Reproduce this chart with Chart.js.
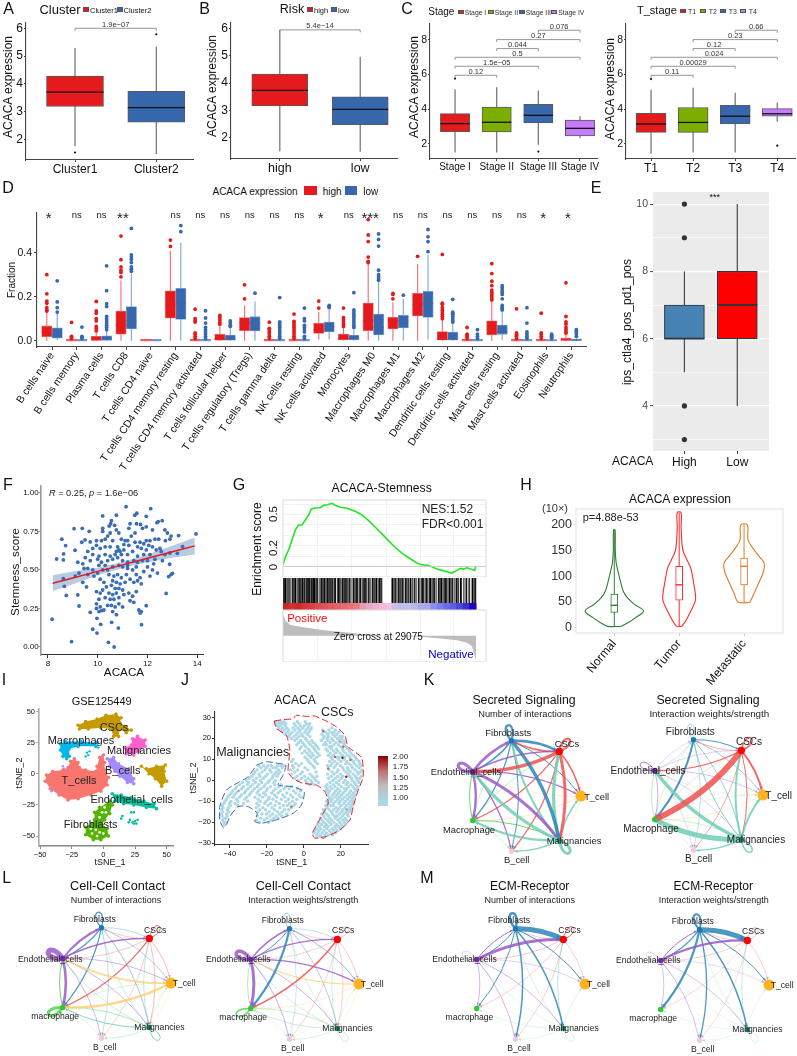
<!DOCTYPE html>
<html>
<head>
<meta charset="utf-8">
<script src="https://cdn.jsdelivr.net/npm/chart.js"></script>
<style>
  html, body { margin: 0; background: #fff; }
  #page { position: relative; width: 797px; height: 1056px; overflow: hidden; font-family: "Liberation Sans", Arial, sans-serif; color: #111; }
  #page canvas { position: absolute; }
  .t { position: absolute; white-space: nowrap; z-index: 2; }
  .k { position: absolute; z-index: 2; box-sizing: border-box; }
</style>
</head>
<body>
<div id="page"></div>
<script>
// ---------- data: A, B ----------
const RED = '#E41A1C', BLUE = '#3768AE';
const clusterNames = ['Cluster1', 'Cluster2'];
const clusterQ1 = [3.18, 2.61], clusterMed = [3.7, 3.14], clusterQ3 = [4.28, 3.73];
const clusterLo = [1.75, 1.47], clusterHi = [5.29, 5.33], clusterOut = [[1.52], [5.78]];
const riskNames = ['high', 'low'];
const riskQ1 = [3.17, 2.48], riskMed = [3.73, 3.04], riskQ3 = [4.33, 3.5];
const riskLo = [1.51, 1.49], riskHi = [5.94, 4.96], riskOut = [[], []];
const exprTicks = [2, 3, 4, 5, 6], exprLabels = ['2', '3', '4', '5', '6'];

// ---------- data: C ----------
const stageNames = ['Stage I', 'Stage II', 'Stage III', 'Stage IV'];
const stageQ1 = [2.71, 2.69, 3.21, 2.46], stageMed = [3.17, 3.25, 3.65, 2.9], stageQ3 = [3.75, 4.13, 4.29, 3.37];
const stageLo = [1.5, 1.5, 1.95, 2.33], stageHi = [5.15, 5.27, 5.08, 3.6], stageOut = [[5.77], [], [1.56], []];
const tNames = ['T1', 'T2', 'T3', 'T4'];
const tQ1 = [2.67, 2.67, 3.15, 3.6], tMed = [3.15, 3.24, 3.6, 3.74], tQ3 = [3.76, 4.1, 4.23, 4.04];
const tLo = [1.43, 1.5, 1.5, 3.28], tHi = [5.13, 5.24, 4.96, 4.37], tOut = [[5.74], [], [], [1.9]];
const stageColors = ['#E41A1C', '#7CAE00', '#3768AE', '#C77CFF'];
const compareY = [5.96, 6.48, 7.0, 7.5, 8.02, 8.56];
const comparePairs = [[1, 2], [1, 3], [1, 4], [2, 3], [2, 4], [3, 4]];
const stageP = ['0.12', '1.5e−05', '0.5', '0.044', '0.27', '0.076'];
const tP = ['0.11', '0.00029', '0.024', '0.12', '0.23', '0.66'];

// ---------- data: D ----------
const immuneNames = ['B cells naive', 'B cells memory', 'Plasma cells', 'T cells CD8', 'T cells CD4 naive', 'T cells CD4 memory resting', 'T cells CD4 memory activated', 'T cells follicular helper', 'T cells regulatory (Tregs)', 'T cells gamma delta', 'NK cells resting', 'NK cells activated', 'Monocytes', 'Macrophages M0', 'Macrophages M1', 'Macrophages M2', 'Dendritic cells resting', 'Dendritic cells activated', 'Mast cells resting', 'Mast cells activated', 'Eosinophils', 'Neutrophils'];
const immuneSig = ['*', 'ns', 'ns', '**', '', 'ns', 'ns', 'ns', 'ns', 'ns', 'ns', '*', 'ns', '***', 'ns', 'ns', 'ns', 'ns', 'ns', 'ns', '*', '*'];
const highQ1 = [.018, 0, 0, .03, 0, .102, 0, 0, .045, 0, 0, .033, .003, .045, .053, .112, .003, 0, .026, 0, 0, 0];
const highMed = [.04, 0, .003, .07, 0, .16, 0, .005, .08, 0, 0, .05, .01, .09, .09, .165, .005, 0, .05, 0, 0, .002];
const highQ3 = [.067, .006, .02, .135, .006, .227, .006, .029, .105, .006, .006, .079, .03, .171, .106, .215, .042, .006, .09, .006, .006, .012];
const highLo = [0, 0, 0, 0, 0, 0, 0, 0, 0, 0, 0, .005, 0, 0, 0, 0, 0, 0, 0, 0, 0, 0];
const highHi = [.13, .015, .045, .275, .006, .408, .01, .07, .16, .01, .01, .13, .06, .35, .175, .348, .1, .01, .18, .015, .015, .03];
const highOut = [[.3, .213, .18, .17, .15, .14, .135], [.083, .02, .015, .01], [.178, .135, .125, .1, .09, .065, .055, .045], [.475, .368, .335, .32, .31, .29], [], [.457, .428], [.143, .1, .09, .085, .035, .03, .02, .01], [.115, .105, .095, .085, .075], [.254, .19], [.084, .056, .05, .04, .03, .02, .01], [.121, .088, .08, .07, .06, .05, .04, .03, .02, .01], [.18, .148], [.148, .105, .095, .085, .075, .065], [.55, .48, .45, .38, .36, .355], [.215, .21, .19], [.383], [.392, .17, .165, .15, .14, .13, .12, .11, .1], [.06, .03, .025, .02, .01], [.35, .305, .27, .25, .23, .22, .21, .2, .19, .185], [.145, .035, .03, .025, .02, .01], [.125, .035, .03, .02, .01], [.263, .11, .085, .075, .06, .05, .04, .035]];
const lowQ1 = [.011, 0, 0, .053, 0, .097, 0, 0, .044, 0, 0, .04, .003, .026, .058, .106, .003, 0, .029, 0, 0, 0];
const lowMed = [.03, 0, .004, .09, 0, .17, 0, .005, .08, 0, 0, .065, .012, .06, .09, .17, .005, 0, .04, 0, 0, .001];
const lowQ3 = [.059, .006, .022, .155, .006, .238, .006, .026, .109, .006, .006, .085, .026, .121, .115, .224, .039, .006, .071, .006, .005, .008];
const lowLo = [.002, 0, 0, 0, 0, 0, 0, 0, 0, 0, 0, .005, 0, 0, 0, .005, 0, 0, .002, 0, 0, 0];
const lowHi = [.13, .015, .05, .305, .006, .445, .01, .06, .178, .01, .01, .14, .05, .27, .19, .39, .08, .01, .14, .015, .012, .02];
const lowOut = [[.272, .176, .15, .13], [.062, .02, .015, .01], [.34, .227, .168, .155, .11, .1, .09, .08, .07, .06, .05], [.51, .39, .38, .37, .355, .335, .325, .315], [], [.523, .495], [.136, .103, .08, .06, .05, .04, .03, .02, .01], [.09, .08, .07, .065], [.216], [.196, .085, .08, .07, .06, .05, .04, .03, .02, .01], [.148, .1, .09, .07, .06, .05, .04, .02, .01], [.16, .155, .15], [.218, .14, .13, .12, .11, .1, .09, .08, .07, .06], [.485, .46, .43, .32, .3, .29, .28, .275], [.207], [.505, .472, .45, .405], [.188, .13, .125, .12, .11, .1, .09, .085], [.05, .03, .02, .01], [.25, .24, .23, .22, .21, .19, .16, .15, .145, .14], [.15, .08, .04, .03, .02, .01], [.03, .025, .02, .015, .01], [.05, .045, .04, .03, .02]];

// ---------- data: E ----------
const ipsNames = ['High', 'Low'];
const ipsQ1 = [6, 6], ipsMed = [6, 7], ipsQ3 = [7, 8], ipsLo = [5, 4], ipsHi = [8, 10], ipsOut = [[10, 9, 4, 3], []];

// ---------- data: F ----------
const stemnessPoints = [[8.17,.18],[8.95,.035],[10.43,.03],[10.66,0],[9.8,.115],[9.97,.09],[10.12,.147],[11.76,.145],[10.83,.123],[10.56,.16],[9.97,.186],[9.7,.225],[10.16,.236],[9.25,.266],[8.74,.335],[9.2,.338],[8.66,.394],[8.62,.444],[11.95,.268],[12.75,.348],[8.35,.571],[8.62,.565],[8.63,.604],[8.71,.658],[8.56,.7],[9.09,.628],[9.05,.768],[9.38,.77],[9.36,.68],[9.49,.695],[9.66,.751],[9.7,.682],[10.2,.851],[10.75,.855],[11.14,.911],[12.13,.898],[11.57,.868],[11.49,.855],[11.95,.848],[12.59,.82],[12.43,.814],[12.38,.807],[13.25,.723],[13.95,.734],[13.41,.652],[13.2,.608],[12.89,.537],[13,.478],[12.85,.457],[12.95,.47],
[10.55,.82],[10.52,.8],[10.46,.785],[10.68,.79],[11.3,.8],[11.56,.8],[11.72,.795],[11.8,.77],[11.95,.78],[12.2,.76],[12.7,.76],[12.8,.74],[12.95,.72],[12.72,.69],[12.9,.7],[12.3,.7],[12.1,.69],[12.45,.7],[10.2,.77],[10.2,.75],[10.4,.72],[10.5,.74],[10.75,.76],[10.85,.74],[11.25,.77],[11.5,.74],[11.35,.72],[10.15,.69],[10.3,.7],[9.95,.69],[9.95,.66],[10.6,.69],[10.95,.7],[11.1,.69],[11.2,.69],[11.5,.68],[11.7,.68],[11.85,.67],[11.95,.69],[12.05,.66],[11.6,.65],[11.75,.64],[11.95,.63],[12.2,.65],[12.5,.64],[12.55,.62],[12.9,.61],[12.7,.6],[10.8,.65],[10.85,.63],[10.9,.62],[10.75,.62],[10.95,.6],[10.7,.6],[11.05,.63],[10.5,.65],[10.3,.65],[10.1,.64],[9.8,.64],[9.6,.62],[9.8,.6],[9.5,.58],[10.05,.59],[10.3,.6],[10.5,.59],[11.2,.6],[11.4,.62],[11.6,.59],[11.85,.6],[12.1,.6],[12.3,.57],[12.6,.56],[9.2,.55],[9.4,.54],[9.45,.51],[9.25,.48],[9.1,.46],[9.6,.51],[9.8,.5],[10.0,.57],[10.15,.55],[10.4,.56],[10.6,.57],[10.8,.58],[11.0,.56],[11.2,.55],[11.45,.56],[11.6,.55],[11.8,.56],[12.0,.56],[12.25,.54],[12.0,.52],[12.2,.5],[12.4,.48],[12.1,.46],[11.85,.49],[11.7,.45],[11.55,.47],[11.4,.5],[11.2,.51],[11.0,.52],[10.85,.53],[10.6,.52],[10.4,.5],[10.2,.5],[10.0,.48],[9.85,.46],[9.6,.47],[9.4,.42],[9.55,.39],[10.1,.44],[10.25,.42],[10.45,.47],[10.65,.46],[10.8,.47],[10.95,.45],[11.15,.47],[11.3,.44],[11.45,.42],[11.6,.43],[11.75,.41],[10.6,.43],[10.75,.42],[10.9,.41],[11.1,.42],[10.35,.39],[10.55,.4],[10.7,.38],[10.85,.38],[11.0,.37],[10.2,.37],[10.1,.35],[9.95,.36],[10.45,.35],[10.6,.34],[10.75,.35],[11.05,.34],[11.25,.35],[11.4,.33],[11.55,.36],[10.3,.32],[10.5,.31],[10.65,.31],[10.85,.32],[11.3,.3],[11.45,.29],[10.05,.31],[9.95,.28],[10.1,.26],[10.25,.24],[10.4,.27],[10.55,.27],[10.7,.26],[10.85,.28],[11.0,.26],[10.6,.23],[10.75,.21],[11.65,.24],[11.75,.23],[11.7,.22],[10.05,.23],[9.95,.25],[11.2,.53],[10.3,.53],[10.05,.53],[11.55,.52],[9.7,.56],[12.35,.63],[11.05,.665],[11.25,.66]];
const fitX = [8.19, 9, 10, 11, 12, 13, 13.9];
const fitY = [.414, .448, .491, .533, .576, .618, .656];
const fitUpper = [.466, .49, .515, .552, .6, .657, .71];
const fitLower = [.364, .408, .465, .512, .55, .58, .6];

// ---------- data: G ----------
const esRank = [0,.73,1.76,2.8,3.83,4.87,5.9,6.94,7.98,8.81,10.05,11.6,12.64,13.88,15.23,16.27,17.82,19.89,22.48,24.55,26.63,28.7,30.77,32.84,34.91,36.99,39.06,41.13,42.68,44.76,46.31,47.86,49.42,50.97,52.53,54.08,55.12,56.15,57.19,58.74,59.57,59.98];
const esValue = [.016,.089,.16,.256,.351,.399,.399,.447,.495,.553,.562,.565,.588,.594,.607,.588,.569,.559,.53,.495,.441,.377,.313,.246,.182,.128,.083,.042,.019,.01,-.003,-.026,-.038,-.051,-.064,-.038,-.019,-.026,-.013,-.029,-.038,.003];
const hitRanks = [0,.4,.8,1.3,1.9,2.3,3,3.3,3.8,4.4,5,5.4,6,6.5,6.8,7.2,7.5,7.9,8.2,8.6,9,9.4,9.7,10.2,10.6,11.3,11.9,12.4,12.9,13.3,13.8,14.3,14.8,15,15.4,15.9,16.2,17,17.4,17.9,18.5,19,19.6,20,20.6,21.1,21.9,22.4,23,23.7,24.1,24.9,25.5,26,26.7,27.2,27.9,28.4,29,29.6,30.1,30.6,34,34.5,35,35.4,36,36.5,37.1,37.5,38.2,38.9,39.6,40.2,40.9,41.4,42.2,43,43.5,44.2,44.7,45.5,45.9,46.6,47,47.6,48.4,48.8,49.3,49.9,50.4,50.9,51.7,52.2,52.7,53.4,54,54.5,55.3,56.2,57,57.9,58.9,59.4,59.8];
const hitShades = ['#111', '#333', '#000', '#555', '#222', '#777', '#111', '#444', '#000', '#666'];
const stripRanks = [1,3,5,7,9,11,13,15,17,19,21,23,25,27,29,31,33,35,37,39,41,43,45,47,49,51,53,55,57,59];
const stripColors = ['#C62828','#D43030','#CC2A2E','#D9363C','#D84048','#DE4A52','#E0505A','#E35862','#E66068','#E86870','#EA7078','#EC7880','#E89AB0','#E8A8C4','#EEB0D0','#F4B8DC','#F8C0E0','#C8C0E8','#BEBCE8','#C0C0EC','#B8B8E8','#AAAAE8','#A8A8EC','#8C8CF0','#7C7CEE','#6C6CEA','#5C5CE4','#4A48D8','#3A30D0','#2000C0'];
const metricRank = [0,.73,2.28,5.39,12.64,17.82,23,31.3,38.55,43.73,48.9,54.08,57.19,58.74,59.98];
const metricValue = [.87,.58,.42,.35,.22,.16,.09,0,-.01,-.04,-.1,-.17,-.27,-.4,-.95];

// ---------- data: H ----------
const tissueNames = ['Normal', 'Tumor', 'Metastatic'];
const tissueColors = ['#2E7D32', '#FF2A2A', '#E07B28'];
const tissueQ1 = [29, 53, 83], tissueMed = [43, 83, 119], tissueQ3 = [65, 119, 135], tissueLo = [1, 2, 49], tissueHi = [190, 224, 200];
const normalV = [2, 9, 19, 32, 45, 58, 70, 87, 108, 125, 150, 190];
const normalW = [.1, .21, .33, .45, .31, .2, .14, .1, .06, .03, .015, .012];
const tumorV = [2, 15, 32, 52, 65, 89, 115, 129, 149, 169, 196, 224];
const tumorW = [.04, .11, .18, .25, .25, .22, .18, .13, .06, .04, .03, .03];
const metaV = [49, 65, 85, 109, 125, 139, 159, 172, 200];
const metaW = [.09, .15, .22, .3, .31, .23, .11, .06, .05];

// ---------- data: I ----------
const tsneNames = ['CSCs', 'Macrophages', 'Malignancies', 'B_cells', 'T_cells', 'Endothelial_cells', 'Fibroblasts'];
const cscOutline = [[-20,39],[-14,42],[-5,44],[2,47],[10,48],[14,45],[13,41],[18,38],[22,35],[18,33],[13,36],[12,30],[8,30],[6,36],[-2,37],[-12,36],[-19,36]];
const cscExtra = [[30,6],[34,4],[42,6],[49,7],[48,2],[50,-6],[46,-10],[41,-4],[36,0]];
const macOutline = [[-34,24],[-30,26],[-18,26],[-5,25],[-6,22],[-20,22],[-27,20],[-27,14],[-29,12],[-32,14],[-34,19]];
const macSpeck = [[-13,17],[-12,15],[-11,18],[-14,14],[-9,23],[-4,21]];
const malOutline = [[23,28],[27,30],[33,27],[33,22],[28,18],[24,15],[18,16],[17,21],[22,23]];
const bOutline = [[3,12],[8,13],[12,8],[20,4],[24,-4],[24,-8],[19,-7],[13,-2],[9,2],[5,6]];
const tOutline = [[-46,-6],[-45,-1],[-40,2],[-32,3],[-28,5],[-26,10],[-23,12],[-20,9],[-19,5],[-14,3],[-6,2],[-5,6],[-3,13],[0,15],[1,9],[1,3],[4,-3],[3,-9],[-2,-14],[-10,-17],[-20,-20],[-28,-21],[-35,-17],[-42,-12]];
const endoOutline = [[7,-16],[14,-17],[22,-19],[32,-22],[40,-24],[42,-28],[34,-27],[24,-25],[16,-24],[9,-22]];
const endoSpeck = [[15,-34],[14,-36],[24,-31],[22,-31],[21,-37],[23,-39],[25,-38],[27,-37],[20,-39],[24,-40],[26,-40]];
const fibOutline = [[5,-22],[7,-25],[5,-32],[1,-37],[-1,-41],[3,-44],[4,-50],[-2,-53],[-8,-53],[-14,-49],[-14,-43],[-9,-40],[-7,-37],[-7,-31],[-3,-27]];
const fibHoles = [[1,-27],[-1,-31],[2,-31],[-3,-35],[-6,-45],[-3,-47],[-9,-48],[0,-48],[-5,-50],[-10,-44]];
const purpleSpeck = [[-42,-12],[-41,-14],[-40,-13],[-32,6],[-31,4],[-1,14]];

// ---------- data: J (each row is y, then the x values on that row) ----------
const jCscRows = [[28,-15.2,-13.6,-12.1,-10.4,-3.5,.8],[27,-15,-13.2,-11.6,-9.7,-5.2,-2.6,1.4,3.2],[26,-14.3,-12.8,-10.1,-4.4,-1.7,.3,2.6],[25,-13.7,-11.5,-9.2,-5.8,-3.1,-.6,2.2,4.1,15.3],[24,-12.4,-10.2,-8.1,-4.7,-1.9,1.2,3.5,10.2,13.6,17.1],[23,-11.3,-8.8,-6.2,-2.8,.6,2.9,11.7,14.4,16.2,18.9],[22,-9.9,-7.4,-4.1,-1.2,1.9,9.8,12.9,15.7,17.9],[21,-8.2,-5.3,-2.6,-.4,3.3,11.1,13.4,16.8,19.7,20.9],[20,-6.7,-3.7,.9,10.4,12.6,14.9,18.1,20.2],[19,-4.9,-1.8,1.6,4.2,9.5,13.1,15.8,19.3,21.6],[18,-2.9,-.7,2.7,5.3,11.6,14.2,17.4,20.6,22.4],[17,-3.8,.2,3.6,6.4,10.7,12.2,16.3,18.7,21.9],[16,-1.4,1.1,4.8,7.2,13.7,15.1,19.9,22.8],[15,-2.2,2.4,5.7,8.1,11.9,14.8,17.7,20.9,23.6],[14,.5,3.2,6.3,12.8,16.1,18.4,21.3,24.7],[13,-.9,1.7,4.3,7.5,14.3,17.2,19.6,22.5,25.4],[12,2.8,5.1,8.4,13.2,15.9,20.7,23.8,26.6],[11,.7,3.9,6.9,14.7,17.8,19.2,22.1,24.9,27.9],[10,-5.8,1.9,5.6,15.4,18.9,21.8,25.6,28.7],[9,-6.6,2.6,6.2,13.9,16.7,20.1,23.3,26.8,29.9],[8,-4.3,-1.2,3.7,7.4,15.2,18.2,22.7,24.4,27.4,30.2],[7,-6.1,-2.7,4.9,12.8,14.4,17.1,19.8,25.7,28.6,30.9],[6,-5.4,.6,5.8,16.3,20.9,23.6,26.3,29.8],[5,-7.2,-3.3,2.1,13.6,18.6,21.7,24.2,27.7,31.4],[4,-4.8,-.8,6.7,15.3,17.9,22.8,25.1,28.9,30.6],[3,-6.4,-1.9,3.4,12.9,16.4,19.9,23.9,26.7,29.4],[2,-3.7,.4,4.6,7.1,14.8,18.4,21.1,24.9,27.8,31.2],[1,-5.1,-1.3,2.3,5.7,13.4,16.9,20.3,25.8,28.4,30.3],[0,-3.1,.9,3.8,6.6,15.7,19.1,22.4,26.2,29.1],[-1,1.6,4.4,7.9,14.2,17.6,21.4,23.7,27.3,29.9],[-2,3.1,5.6,12.6,15.9,18.9,22.9,25.4,28.2],[-3,11.8,14.3,16.8,20.2,24.1,26.6,29.2],[-4,12.7,15.2,18.3,21.8,23.2,27.4,28.7],[-5,12.2,13.9,17.1,19.6,22.6,25.3,28.1],[-6,13.4,16.4,18.8,21.3,24.6,26.9],[-7,12.9,15.6,17.9,20.4,23.4,25.9,27.8],[-8,14.1,16.9,19.2,22.1,24.8,27.1],[-9,13.6,15.3,18.4,20.8,23.7,26.2],[-10,12.3,14.7,17.3,19.7,22.4,25.1,26.9],[-11,13.2,16.1,18.9,21.6,24.3,26.4],[-12,11.9,14.4,15.8,20.2,23.1,25.6],[-13,12.8,17.4,19.3,22.2,24.7,26.1],[-14,10.6,13.7,16.2,18.6,21.1,23.9,25.2],[-15,11.2,14.9,17.7,20.4,22.8,24.6],[-16,9.7,12.4,15.6,19.2,21.7,23.4],[-17,10.8,13.3,16.6,18.1,20.9,24.1],[-18,8.9,11.6,14.2,17.2,19.8,22.3],[-19,9.9,12.9,15.1,18.6,21.2,23.2],[-20,8.2,10.9,13.8,16.2,19.4,21.9],[-21,7.3,9.6,12.1,14.7,17.7,20.3,22.6],[-22,8.4,11.2,13.1,16.8,18.9,21.1],[-23,6.9,9.1,12.4,15.3,17.4,19.8],[-24,6.1,8.2,10.7,13.9,16.2,18.2],[-25,5.4,7.6,9.9,12.2,14.8,17.1],[-26,6.8,8.9,11.4,13.5,15.6],[-27,7.9,9.6,11.3]];
const jMalRows = [[7,-24.4,-21.7,-19.3,-17.6,-14.2,-12.4,-10.8],[6,-23.1,-20.4,-16.8,-15.1,-11.7],[5,-25.2,-21.1,-18.4,-13.6],[4,-26.4,-22.6,-17.7,-14.9,-12.9],[3,-27.3,-24.2,-19.6,-15.8,-13.8],[2,-28.1,-23.8,-20.7,-16.6,-14.4],[1,-29.4,-25.6,-21.9,-17.2],[0,-31.1,-27.2,-23.4,-18.6,-15.3],[-1,-33.2,-29.8,-26.1,-22.7,-19.4,-16.2],[-2,-34.6,-30.4,-27.6,-24.3,-20.8,-15.7,-12.2],[-3,-36.3,-32.7,-28.9,-25.1,-21.6,-18.1,-13.4,-9.8,-6.6],[-4,-37.1,-33.6,-30.2,-26.7,-23.2,-19.7,-15.1,-10.7,-7.9,-3.4],[-5,-38.4,-35.2,-31.4,-27.8,-24.6,-20.3,-16.4,-12.6,-5.7,-1.8],[-6,-39.2,-36.6,-32.1,-28.7,-25.3,-21.7,-17.3,-13.9,-9.2,-4.3],[-7,-40.3,-37.4,-33.7,-29.6,-23.9,-20.6,-15.8,-11.4,-7.2,-2.6],[-8,-41.1,-38.2,-34.8,-30.9,-26.4,-22.4,-18.7,-14.6,-10.3,-5.9,-1.4],[-9,-41.9,-36.3,-31.8,-24.7,-19.1,-16.7,-12.2,-8.3,-3.8],[-10,-42.6,-39.4,-35.6,-30.3,-23.6,-20.4,-14.9,-9.7,-6.1],[-11,-43.2,-40.1,-37.2,-32.6,-25.4,-21.2,-17.9,-13.2,-7.7,-4.6],[-12,-44.1,-39.7,-35.8,-24.2,-19.3,-15.6,-11.1,-8.9,-5.4],[-13,-43.6,-40.8,-25.7,-22.1,-17.2,-12.9,-6.8],[-14,-44.4,-41.3,-23.8,-20.7,-15.9,-10.4,-8.2],[-15,-43.9,-40.6,-24.9,-18.7,-14.3,-11.7],[-16,-44.6,-41.7,-22.6,-20.1,-16.8,-13.1,-9.3],[-17,-44.2,-41.4,-25.1,-18.3,-14.9,-11.9],[-18,-43.4,-42.2,-23.3,-19.9,-16.2,-13.8],[-19,-43.8,-25.6,-21.4,-17.6],[-20,-43.1,-42.3,-23.9,-19.1],[-21,-42.7]];
const hotPoints = [[10.5,23.4,1.5],[20.9,10.8,2],[23,1.7,2],[16.8,11.2,1.5],[13.2,5.7,1.5],[19.5,18.4,1.4],[21.3,16,1.5],[25.2,9.7,1.5],[23,-13.8,1.4],[-6.7,-12.5,1.5],[-35.3,-5,1.4],[10.5,-27.5,1.4]];
const redOutline = [[-16,28.3],[-11.2,29],[-5.8,29.4],[-4,31],[1.4,30.5],[5.9,30.7],[11.4,28.6],[17.7,25.5],[22.2,21.5],[24,16],[31.2,10.9],[32.1,1.7],[29.4,-4.6],[26.7,-12.5],[24.9,-18.8],[19.5,-23.6],[12.3,-26.7],[5.9,-27.5],[4.7,-25.2],[9.5,-17.2],[13.2,-10.9],[11.4,-5.4],[6.8,-2.2],[-.4,-1.4],[-5.8,.9],[-8.5,4.1],[-7.6,14.4],[-9.4,21.5],[-14.8,24.7],[-16,28.3]];
const blueOutline = [[-25.6,7.3],[-20.2,8.9],[-13.9,8.1],[-9.7,7.3],[-11.2,2.5],[-13.9,-2.2],[-5.8,-3],[.2,-5.4],[-1.3,-11.7],[-5.8,-15.7],[-14.8,-18.8],[-22.9,-20.4],[-26.5,-19.6],[-25.2,-15.7],[-30.1,-12.5],[-35.5,-12.5],[-40,-17.2],[-41.8,-21.2],[-43.6,-22.3],[-45.4,-18.8],[-45.4,-12.5],[-41.8,-4.6],[-34.6,-.6],[-30.1,1.7],[-25.6,7.3]];
const scaleLabels = ['2.00', '1.75', '1.50', '1.25', '1.00'];

// ---------- data: K, L, M (node order: T_cell, CSCs, Fibroblasts, Endothelial, Macrophage, B_cell, Malignancies) ----------
const nodeX = [1, .62, -.22, -.9, -.9, -.22, .62];
const nodeY = [0, .78, .97, .43, -.43, -.97, -.78];
const nodeColors = ['#FFB41F', '#FF0000', '#1F78B4', '#6A2C9E', '#2CCB2C', '#F4C6E4', '#1B8F72'];
const edgeColors = ['#FFCF70', '#F05050', '#2E86B8', '#9B59C9', '#55D055', '#E8C0DC', '#70CFB4'];
const nodeSizes = [5.5, 3.7, 2.7, 2.8, 2.7, 2.6, 2.7];
const kCount = [[2,2,2.2],[1,1,2.2],[3,3,3],[6,6,3],[2,1,2.6],[1,2,1.5],[3,2,2.6],[2,3,1.5],[3,1,1.6],[1,3,3.4],[3,6,3],[6,3,3],[2,6,3.4],[6,2,2],[1,6,3],[6,1,3.2],[1,0,1.6],[2,0,1],[3,0,1.2],[0,3,.6],[0,2,.5],[6,0,1.5],[2,4,1.2],[3,4,2.4],[4,3,1],[1,4,1.2],[4,1,.7],[4,6,1],[6,4,2.4],[0,4,.8],[1,5,1.2],[2,5,1],[3,5,1.2],[6,5,1.5],[4,5,.6],[4,2,.6],[0,6,.5]];
const kWeight = [[2,2,.7],[1,1,1.6],[3,3,1],[6,6,1.6],[2,1,1],[1,2,.8],[3,2,.4],[2,3,.4],[1,3,1.2],[3,1,.5],[1,4,6],[4,1,.5],[6,4,5],[4,6,.5],[6,3,3.4],[3,6,.5],[2,4,2],[4,2,.4],[1,0,2],[6,0,2],[6,1,2],[1,6,1],[2,6,.8],[6,2,1],[2,0,.8],[3,0,.7],[0,3,.4],[0,4,.6],[3,4,.9],[4,3,.7],[1,5,.9],[2,5,.5],[3,5,.4],[6,5,1.4],[4,5,.3],[5,2,.3],[4,0,.3]];
const lCount = [[3,3,5],[4,4,3],[2,2,1.2],[1,1,1],[6,6,1],[3,2,2],[2,3,1.2],[3,1,1.5],[1,3,.6],[3,4,2.6],[4,3,1],[2,4,1.2],[1,4,1.2],[0,4,2.2],[4,0,.4],[3,0,.8],[0,3,1.5],[1,2,.6],[2,1,.6],[2,0,.7],[1,0,.7],[1,6,.7],[6,1,.8],[2,6,.8],[6,2,.6],[3,6,.8],[6,3,.7],[4,6,.8],[6,4,1],[3,5,.8],[2,5,.5],[1,5,.5],[6,5,.6],[0,5,.4],[0,6,.4],[4,5,.3],[6,0,.4]];
const lWeight = [[3,3,3.5],[4,4,1.6],[2,2,.9],[1,1,.6],[6,6,.7],[3,2,1.5],[2,3,1],[3,1,1.2],[1,3,.5],[3,4,3],[4,3,.8],[2,4,2.2],[1,4,1.5],[0,4,.6],[3,0,1.3],[0,3,1],[1,2,.5],[2,1,.5],[2,0,.9],[1,0,.6],[1,6,.5],[6,1,.6],[2,6,.7],[6,2,.5],[3,6,.8],[6,3,.6],[4,6,.6],[6,4,.7],[3,5,.9],[2,5,.4],[1,5,.5],[6,5,.5],[0,5,.4],[0,6,.3],[4,5,.3],[6,0,.3]];
const mCount = [[2,1,5],[3,1,3],[2,2,2.5],[1,1,1],[3,3,.5],[6,6,.5],[2,6,1.5],[2,5,1.5],[2,4,1],[2,0,1],[2,3,1],[3,2,1],[1,2,.6],[1,3,.6],[1,4,.5],[1,5,.5],[1,0,.5],[3,4,.8],[3,5,.8],[3,0,.5],[3,6,.8],[6,1,.9],[6,0,.4],[6,4,.4],[6,5,.4],[6,3,.4],[6,2,.5]];
const mWeight = [[2,1,5],[3,1,2.2],[2,2,2],[1,1,.7],[3,3,.5],[6,6,.5],[2,6,1.5],[2,5,1.3],[2,4,2.2],[2,0,1],[2,3,1.2],[3,2,1],[1,2,.5],[1,3,.5],[1,4,.4],[1,5,.4],[1,0,.5],[3,4,.7],[3,5,.7],[3,0,.4],[3,6,.7],[6,1,.7],[6,0,.3],[6,4,.3],[6,5,.3],[6,3,.3],[6,2,.4]];
const labelOffK = [[72.7,0],[43,-53.6],[-15.7,-64],[-58,-25],[-55,33],[-7.3,63],[50,44]];
const labelOffL = [[70.5,0],[41.5,-53.5],[-19,-64],[-63.5,-24.7],[-58.5,33],[-9,64],[45.7,44]];

// ---------- helpers ----------
const page = document.getElementById('page');
Chart.defaults.font.family = '"Liberation Sans", Arial, sans-serif';
Chart.defaults.color = '#111';
Chart.defaults.animation = false;
Chart.defaults.plugins.legend.display = false;
Chart.defaults.plugins.tooltip.enabled = false;

function txt(s, x, y, size, o = {}) {
  const d = document.createElement('div');
  d.className = 't';
  d.innerHTML = s;
  d.style.left = x + 'px';
  d.style.top = y + 'px';
  d.style.fontSize = size + 'px';
  d.style.color = o.color || '#111';
  const ax = o.left ? '0' : '-50%';
  d.style.transform = 'translate(' + ax + ',-50%)' + (o.rot ? ' rotate(' + o.rot + 'deg)' : '');
  page.appendChild(d);
}
function key(x0, x1, y0, y1, color, border) {
  const d = document.createElement('div');
  d.className = 'k';
  d.style.cssText = 'left:' + x0 + 'px;top:' + y0 + 'px;width:' + (x1 - x0) + 'px;height:' + (y1 - y0) + 'px;background:' + color + ';border:' + (border || '0.6px solid #555');
  page.appendChild(d);
}
function axis(min, max, vals, names, size, o = {}) {
  return {
    type: 'linear', min, max, offset: false,
    afterBuildTicks: s => { s.ticks = vals.map(value => ({ value })); },
    ticks: { autoSkip: false, minRotation: o.rot || 0, maxRotation: o.rot || 0, padding: o.pad === undefined ? 2 : o.pad, color: o.color || '#111', font: { size }, callback: (v, i) => names[i] },
    grid: { offset: false, drawOnChartArea: !!o.grid, color: o.grid || '#0000', lineWidth: o.gridWidth || 1, tickLength: o.tick === undefined ? 3 : o.tick, tickColor: o.tickColor || o.border || '#444', tickWidth: 1 },
    border: { display: o.border !== 'none', color: o.border || '#444', width: o.bw || 1.1 }
  };
}
function noPadding(a) {
  a.paddingLeft = a.paddingRight = a.paddingTop = a.paddingBottom = 0;
}
// plot rect is [left, top, right, bottom] of the data area on the page
function plot(rect, m, cfg) {
  const [l, t, r, b] = rect;
  const c = document.createElement('canvas');
  const w = Math.round(r - l + m.ml + m.mr), h = Math.round(b - t + m.mt + m.mb);
  c.width = w; c.height = h;
  c.style.left = (l - m.ml) + 'px';
  c.style.top = (t - m.mt) + 'px';
  c.style.width = w + 'px';
  c.style.height = h + 'px';
  page.appendChild(c);
  const s = cfg.scales;
  s.x.afterFit = a => { a.height = m.mb; noPadding(a); };
  s.y.afterFit = a => { a.width = m.ml; noPadding(a); };
  return new Chart(c, {
    type: 'line',
    data: { datasets: cfg.datasets, extra: cfg.extra || {} },
    options: { responsive: false, maintainAspectRatio: false, layout: { autoPadding: false, padding: { top: m.mt, right: m.mr, left: 0, bottom: 0 } }, scales: s }
  });
}
function boxSet(xs, q1, med, q3, lo, hi, out, colors, thick, st) {
  return {
    type: 'bar', order: 2,
    data: xs.map((x, i) => ({ x, y: [q1[i], q3[i]] })),
    backgroundColor: colors, borderColor: st.border, borderWidth: st.bw, borderSkipped: false, barThickness: thick,
    box: { lo, med, hi, out, st }
  };
}
function pts(list, color, r) {
  return { data: list.map(p => ({ x: p[0], y: p[1] })), showLine: false, pointRadius: r, pointBackgroundColor: color, pointBorderWidth: 0, order: 1 };
}
function curve(xs, ys, color, width, o = {}) {
  return Object.assign({ data: xs.map((x, i) => ({ x, y: ys[i] })), borderColor: color, borderWidth: width, pointRadius: 0, fill: false }, o);
}
function rowsToPoints(rows) {
  const out = [];
  rows.forEach(r => r.slice(1).forEach(x => out.push([x, r[0]])));
  return out;
}

// box details, brackets, blobs, network edges and frames, all placed through the chart scales
Chart.register({
  id: 'parts',
  beforeDraw(chart) {
    const e = chart.data.extra, a = chart.chartArea, ctx = chart.ctx;
    if (e && e.bg) { ctx.fillStyle = e.bg; ctx.fillRect(a.left, a.top, a.width, a.height); }
  },
  beforeDatasetsDraw(chart) {
    const e = chart.data.extra, ctx = chart.ctx, X = chart.scales.x, Y = chart.scales.y;
    (e.blobs || []).forEach(b => {
      ctx.beginPath();
      b.pts.forEach((p, i) => { const x = X.getPixelForValue(p[0]), y = Y.getPixelForValue(p[1]); i ? ctx.lineTo(x, y) : ctx.moveTo(x, y); });
      ctx.closePath();
      ctx.fillStyle = b.color;
      ctx.fill();
    });
    (e.edges || []).slice().sort((p, q) => p[2] - q[2]).forEach(([s, t, w]) => {
      const sx = X.getPixelForValue(nodeX[s]), sy = Y.getPixelForValue(nodeY[s]);
      ctx.save();
      ctx.globalAlpha = w < 1 ? .55 : .85;
      ctx.beginPath();
      ctx.strokeStyle = edgeColors[s];
      ctx.fillStyle = edgeColors[s];
      ctx.lineWidth = w;
      ctx.moveTo(sx, sy);
      if (s === t) {
        const ang = Math.atan2(-nodeY[s], nodeX[s]), L = 24;
        ctx.bezierCurveTo(sx + L * Math.cos(ang + .5), sy + L * Math.sin(ang + .5), sx + L * Math.cos(ang - .5), sy + L * Math.sin(ang - .5), sx, sy);
        ctx.stroke();
      } else {
        const tx = X.getPixelForValue(nodeX[t]), ty = Y.getPixelForValue(nodeY[t]);
        const cx = (sx + tx) / 2 + (ty - sy) * .13, cy = (sy + ty) / 2 - (tx - sx) * .13;
        ctx.quadraticCurveTo(cx, cy, tx, ty);
        ctx.stroke();
        // small arrow head just off the target node
        const ang = Math.atan2(ty - cy, tx - cx), gap = t === 0 ? 5.5 : 3, size = 2.6 + w * .5;
        const hx = tx - gap * Math.cos(ang), hy = ty - gap * Math.sin(ang);
        ctx.beginPath();
        ctx.moveTo(hx, hy);
        ctx.lineTo(hx - size * Math.cos(ang - .45), hy - size * Math.sin(ang - .45));
        ctx.lineTo(hx - size * Math.cos(ang + .45), hy - size * Math.sin(ang + .45));
        ctx.closePath();
        ctx.fill();
      }
      ctx.restore();
    });
    chart.data.datasets.forEach((d, i) => {
      if (!d.box) return;
      const st = d.box.st;
      chart.getDatasetMeta(i).data.forEach((bar, j) => {
        ctx.beginPath();
        ctx.strokeStyle = Array.isArray(st.whisker) ? st.whisker[j] : st.whisker;
        ctx.lineWidth = st.ww;
        ctx.moveTo(bar.x, Y.getPixelForValue(d.box.lo[j]));
        ctx.lineTo(bar.x, Y.getPixelForValue(d.box.hi[j]));
        ctx.stroke();
      });
    });
  },
  afterDatasetsDraw(chart) {
    const e = chart.data.extra, ctx = chart.ctx, X = chart.scales.x, Y = chart.scales.y, a = chart.chartArea;
    chart.data.datasets.forEach((d, i) => {
      if (!d.box) return;
      const st = d.box.st;
      chart.getDatasetMeta(i).data.forEach((bar, j) => {
        if (st.med) {
          const my = Y.getPixelForValue(d.box.med[j]);
          ctx.beginPath();
          ctx.strokeStyle = Array.isArray(st.med) ? st.med[j] : st.med;
          ctx.lineWidth = st.mw;
          ctx.moveTo(bar.x - bar.width / 2, my);
          ctx.lineTo(bar.x + bar.width / 2, my);
          ctx.stroke();
        }
        (d.box.out[j] || []).forEach(v => {
          ctx.beginPath();
          ctx.fillStyle = st.dot;
          ctx.arc(bar.x, Y.getPixelForValue(v), st.dr, 0, 7);
          ctx.fill();
        });
      });
    });
    (e.brackets || []).forEach(([x0, x1, yv, label]) => {
      const p0 = X.getPixelForValue(x0), p1 = X.getPixelForValue(x1), py = Y.getPixelForValue(yv);
      ctx.beginPath();
      ctx.strokeStyle = '#8a8a8a';
      ctx.lineWidth = .9;
      ctx.moveTo(p0, py + 2.5); ctx.lineTo(p0, py); ctx.lineTo(p1, py); ctx.lineTo(p1, py + 2.5);
      ctx.stroke();
      ctx.fillStyle = '#333';
      ctx.font = '7.5px "Liberation Sans"';
      ctx.textAlign = 'center';
      ctx.textBaseline = 'middle';
      ctx.fillText(label, (p0 + p1) / 2, py - 3.7);
    });
    (e.marks || []).forEach(([xv, yv, label]) => {
      const star = label.indexOf('*') >= 0;
      ctx.fillStyle = '#222';
      ctx.font = (star ? 15 : 9.5) + 'px "Liberation Sans"';
      ctx.textAlign = 'center';
      ctx.textBaseline = 'middle';
      ctx.fillText(label, X.getPixelForValue(xv), Y.getPixelForValue(yv) + (star ? 2.5 : 0));
    });
    if (e.frame) {
      ctx.strokeStyle = e.frame;
      ctx.lineWidth = 1;
      ctx.strokeRect(a.left, a.top, a.width, a.height);
    }
  }
});

const darkBox = { border: '#5a5a5a', bw: 1, whisker: '#7a7a7a', ww: 1.3, med: '#111', mw: 1.3, dot: '#111', dr: 1.1 };

function exprBox(rect, names, centers, q1, med, q3, lo, hi, out, colors, thick, xr, yr, yt, yl, xsize, ysize, brackets) {
  plot(rect, { ml: 24, mb: 22, mt: 6, mr: 2 }, {
    datasets: [boxSet(centers, q1, med, q3, lo, hi, out, colors, thick, darkBox)],
    extra: { brackets },
    scales: { x: axis(xr[0], xr[1], centers, names, xsize, { tick: 2, pad: 0 }), y: axis(yr[0], yr[1], yt, yl, ysize, { tick: 2, pad: 1 }) }
  });
}

// ---------- A ----------
exprBox([26, 23, 193, 160], clusterNames, [1, 2], clusterQ1, clusterMed, clusterQ3, clusterLo, clusterHi, clusterOut, [RED, BLUE], 57,
  [1 - 49 / 81.3, 2 + 36.7 / 81.3], [1.25, 6.19], exprTicks, exprLabels, 12, 12, [[1, 2, 6.0, '1.9e−07']]);
txt('A', 8.5, 9, 16);
txt('Cluster', 60, 9, 13);
key(83, 89, 7, 12, RED); txt('Cluster1', 90, 9.5, 7.5, { left: 1 });
key(117, 123, 7, 12, BLUE); txt('Cluster2', 123.5, 9.5, 7.5, { left: 1 });
txt('ACACA expression', 8, 87, 12, { rot: -90 });

// ---------- B ----------
exprBox([231, 23, 396.7, 158.7], riskNames, [1, 2], riskQ1, riskMed, riskQ3, riskLo, riskHi, riskOut, [RED, BLUE], 56,
  [1 - 48.7 / 80.3, 2 + 36.7 / 80.3], [1.23, 6.19], exprTicks, exprLabels, 12.5, 12, [[1, 2, 5.94, '5.4e−14']]);
txt('B', 204.7, 9, 16);
txt('Risk', 292, 9, 12.5);
key(307, 313, 7, 12, RED); txt('high', 314, 9.5, 7.5, { left: 1 });
key(331, 337, 7, 12, BLUE); txt('low', 338, 9.5, 7.5, { left: 1 });
txt('ACACA expression', 212, 86, 12, { rot: -90 });

// ---------- C ----------
const cPositions = [1, 2, 3, 4];
const cTicks = [2, 4, 6, 8], cLabels = ['2', '4', '6', '8'];
exprBox([430.3, 24, 597, 159], stageNames, cPositions, stageQ1, stageMed, stageQ3, stageLo, stageHi, stageOut, stageColors, 29.3,
  [1 - 25 / 41.6, 4 + 17 / 41.6], [1.13, 8.92], cTicks, cLabels, 10, 10.5, comparePairs.map((p, i) => [p[0], p[1], compareY[i], stageP[i]]));
exprBox([626.3, 24, 795, 159.3], tNames, cPositions, tQ1, tMed, tQ3, tLo, tHi, tOut, stageColors, 30,
  [1 - 25 / 42, 4 + 17.7 / 42], [1.13, 8.92], cTicks, cLabels, 12, 10.5, comparePairs.map((p, i) => [p[0], p[1], compareY[i], tP[i]]));
txt('C', 407, 9, 16);
txt('Stage', 428.3, 11, 10, { left: 1 });
[[458, 463.7, 'Stage I', 464.7], [487.7, 493.7, 'Stage II', 494.7], [518.7, 524.7, 'Stage III', 525.7], [551.3, 557.3, 'Stage IV', 558.3]].forEach((k, i) => {
  key(k[0], k[1], 9.5, 14, stageColors[i]); txt(k[2], k[3], 11.5, 6.8, { left: 1, color: '#333' });
});
txt('T_stage', 637, 10, 11, { left: 1 });
[[680.3, 686, 'T1', 688], [700.3, 706, 'T2', 708.7], [720.3, 726, 'T3', 728.7], [740.3, 746.3, 'T4', 748.7]].forEach((k, i) => {
  key(k[0], k[1], 8.5, 13, stageColors[i]); txt(k[2], k[3], 11, 7, { left: 1, color: '#333' });
});
txt('ACACA expression', 414, 87, 12, { rot: -90 });
txt('ACACA expression', 610, 89, 12, { rot: -90 });

// ---------- D ----------
const immuneX = immuneNames.map((n, i) => i);
const softBox = (col, dot) => ({ border: col, bw: .8, whisker: col, ww: 1.1, med: dot, mw: .8, dot, dr: 1.9 });
plot([37, 213, 586, 347], { ml: 37, mb: 125, mt: 5, mr: 5 }, {
  datasets: [
    boxSet(immuneX, highQ1, highMed, highQ3, highLo, highHi, highOut, RED, 10.4, softBox('#EE6E72', RED)),
    boxSet(immuneX, lowQ1, lowMed, lowQ3, lowLo, lowHi, lowOut, BLUE, 10.4, softBox('#7FA3D8', BLUE))
  ],
  extra: { marks: immuneSig.map((s, i) => [i - (s.indexOf('*') >= 0 ? .13 : 0), .567, s]) },
  scales: {
    x: axis(-.607, 21.6, immuneX, immuneNames, 10.5, { rot: 56, pad: 0 }),
    y: axis(-.0286, .58, [0, .2, .4], ['0.0', '0.2', '0.4'], 10.5)
  }
});
txt('D', 8, 188, 16);
txt('ACACA expression', 255, 190.7, 10);
key(304, 316.7, 186, 195, RED, '0');
txt('high', 322.7, 190.7, 10, { left: 1 });
key(345, 357, 186, 195, BLUE, '0');
txt('low', 363.3, 190.7, 10, { left: 1 });
txt('Fraction', 10.5, 280, 10, { rot: -90 });

// ---------- E ----------
const ipsStyle = { border: '#333', bw: 1.1, whisker: '#4a4a4a', ww: 1.2, med: '#333', mw: 1.8, dot: '#333', dr: 2.6 };
plot([652.7, 192.3, 768.3, 451], { ml: 62, mb: 20, mt: 4, mr: 4 }, {
  datasets: [boxSet([1, 2], ipsQ1, ipsMed, ipsQ3, ipsLo, ipsHi, ipsOut, ['#4682B4', '#FF0000'], 40, ipsStyle)],
  extra: { bg: '#EBEBEB' },
  scales: {
    x: axis(1 - 31.3 / 52.7, 2 + 31.6 / 52.7, [1, 2], ipsNames, 12, { border: 'none', tickColor: '#444', pad: 1 }),
    y: axis(2.66, 10.36, [3, 4, 5, 6, 7, 8, 9, 10], ['', '4', '', '6', '', '8', '', '10'], 10.5, { border: 'none', color: '#4d4d4d', grid: '#fff', gridWidth: c => (c.tick && c.tick.value % 2 ? .6 : 1.2), tickColor: c => (c.tick && c.tick.value % 2 ? '#0000' : '#444') })
  }
});
txt('E', 596, 188, 16);
txt('***', 714.7, 197, 9);
txt('ACACA', 632.7, 460.7, 12);
txt('ips_ctla4_pos_pd1_pos', 626.7, 321.7, 12, { rot: -90 });

// ---------- F ----------
plot([40.7, 486, 202.7, 655], { ml: 40.7, mb: 14, mt: 4, mr: 4 }, {
  datasets: [
    curve(fitX, fitUpper, '#0000', 0, { fill: '+1', backgroundColor: 'rgba(58,109,181,.36)', order: 3 }),
    curve(fitX, fitLower, '#0000', 0, { order: 3 }),
    pts(stemnessPoints, '#3A6DB5', 1.9),
    curve(fitX, fitY, '#E41A1C', 1.4, { order: 0 })
  ],
  scales: {
    x: axis(7.71, 14.23, [8, 10, 12, 14], ['8', '10', '12', '14'], 8, { border: '#333', pad: 1 }),
    y: axis(-.052, 1.045, [0, .25, .5, .75, 1], ['0.00', '0.25', '0.50', '0.75', '1.00'], 8, { border: '#999', bw: 1.6, pad: 0, tick: 2 })
  }
});
txt('F', 8, 485, 16);
txt('<i>R</i> = 0.25, <i>p</i> = 1.6e−06', 49, 492.7, 9.2, { left: 1, color: '#222' });
txt('ACACA', 124, 670.7, 11.7);
txt('Stemness_score', 15, 571.7, 11.8, { rot: -90 });

// ---------- G ----------
const rankMax = 63.1;
const rankTicks = [10.7, 21.4, 32.3, 42.7, 53], blankTicks = ['', '', '', '', ''];
plot([282.7, 500, 485.7, 577.3], { ml: 1, mb: 0, mt: 1, mr: 1 }, {
  datasets: [
    curve([0, rankMax], [0, 0], '#c8c8c8', 1),
    curve(esRank, esValue, '#22E622', 1.6)
  ],
  extra: { frame: '#dcdcdc' },
  scales: {
    x: axis(0, rankMax, rankTicks, blankTicks, 1, { border: 'none', grid: '#f1f1f1', tick: 0 }),
    y: axis(-.102, .639, [.1, .2, .3, .4, .5, .6], ['', '', '', '', '', ''], 1, { border: 'none', grid: '#f1f1f1', tick: 0 })
  }
});
plot([282.7, 578.3, 485.7, 603.3], { ml: 1, mb: 0, mt: 1, mr: 1 }, {
  datasets: [{ type: 'bar', data: hitRanks.map(x => ({ x, y: [0, 1] })), backgroundColor: hitRanks.map((x, i) => hitShades[i % hitShades.length]), barThickness: 1.1 }],
  scales: {
    x: axis(0, rankMax, [], [], 1, { border: 'none', tick: 0 }),
    y: axis(0, 1, [], [], 1, { border: 'none', tick: 0 })
  }
});
plot([282.7, 603.3, 485.7, 610], { ml: 1, mb: 0, mt: 1, mr: 1 }, {
  datasets: [{ type: 'bar', data: stripRanks.map(x => ({ x, y: [0, 1] })), backgroundColor: stripColors, barThickness: 6.8 }],
  scales: {
    x: axis(0, rankMax, [], [], 1, { border: 'none', tick: 0 }),
    y: axis(0, 1, [], [], 1, { border: 'none', tick: 0 })
  }
});
plot([282.7, 610, 485.7, 661.7], { ml: 1, mb: 0, mt: 1, mr: 1 }, {
  datasets: [curve(metricRank, metricValue, '#bdbdbd', 0, { fill: 'origin', backgroundColor: '#bdbdbd' })],
  extra: { frame: '#dcdcdc' },
  scales: {
    x: axis(0, rankMax, rankTicks, blankTicks, 1, { border: 'none', grid: '#f3f3f3', tick: 0 }),
    y: axis(-1.01, 1, [], [], 1, { border: 'none', tick: 0 })
  }
});
txt('G', 239, 485, 16);
txt('ACACA-Stemness', 381.7, 487.7, 12.2);
txt('NES:1.52', 421.7, 509.3, 12, { left: 1, color: '#222' });
txt('FDR&lt;0.001', 421.7, 524, 12, { left: 1, color: '#222' });
txt('Enrichment score', 256.7, 549.3, 12, { rot: -90 });
txt('0', 272.7, 567, 11.5, { rot: -90 });
txt('0.2', 272.7, 547.5, 11.5, { rot: -90 });
txt('0.5', 272.7, 513.5, 11.5, { rot: -90 });
txt('Positive', 307.3, 618.3, 11.5, { color: '#F01010' });
txt('Zero cross at 29075', 378.3, 636.3, 10);
txt('Negative', 451, 654, 11.5, { color: '#0000CD' });

// ---------- H ----------
function violin(center, vs, ws) {
  const up = vs.map((v, i) => [center + ws[i], v]);
  const down = vs.map((v, i) => [center - ws[i], v]).reverse();
  return up.concat(down, [up[0]]);
}
const violinSet = (list, color) => curve(list.map(p => p[0]), list.map(p => p[1]), color, 1.1, { tension: .35 });
plot([576, 509.3, 783.3, 633.3], { ml: 50, mb: 60, mt: 2, mr: 2 }, {
  datasets: [
    violinSet(violin(1, normalV, normalW), tissueColors[0]),
    violinSet(violin(2, tumorV, tumorW), tissueColors[1]),
    violinSet(violin(3, metaV, metaW), tissueColors[2]),
    ...[0, 1, 2].map(i => boxSet([i + 1], [tissueQ1[i]], [tissueMed[i]], [tissueQ3[i]], [tissueLo[i]], [tissueHi[i]], [[]], '#fff', 7,
      { border: tissueColors[i], bw: 1, whisker: tissueColors[i], ww: 1, med: tissueColors[i], mw: 1.4, dot: '#000', dr: 0 }))
  ].map((d, i) => (d.type === 'bar' ? Object.assign(d, { stack: 's' + i, grouped: false }) : d)),
  extra: { frame: '#e2e2e2' },
  scales: {
    x: Object.assign(axis(.41, 3.6, [1, 2, 3], tissueNames, 12, { rot: 50, border: 'none', tickColor: '#ccc', pad: 1 }), { stacked: false }),
    y: axis(-11, 231, [0, 50, 100, 150, 200], ['0', '50', '100', '150', '200'], 12.5, { border: 'none', tick: 2, tickColor: '#ddd', color: '#333' })
  }
});
txt('H', 526, 485, 16);
txt('ACACA expression', 680, 499, 12);
txt('(10×)', 555, 508, 11, { color: '#333' });
txt('p=4.88e-53', 582.7, 517, 11, { left: 1, color: '#222' });

// ---------- I ----------
const blobSets = [
  [cscOutline, '#C49A00'], [cscExtra, '#C49A00'], [macOutline, '#00B8E7'], [malOutline, '#FF61CC'],
  [bOutline, '#A58AFF'], [tOutline, '#F8766D'], [endoOutline, '#00C19A'], [fibOutline, '#53B400']
];
plot([38.7, 709.3, 173, 846], { ml: 24, mb: 12, mt: 3, mr: 3 }, {
  datasets: [
    ...blobSets.map(b => pts(b[0], b[1], 1.8)),
    pts(macSpeck, '#00B8E7', 1.2), pts(endoSpeck, '#00C19A', 1.3), pts(purpleSpeck, '#A58AFF', 1.3), pts(fibHoles, '#fff', 1.4)
  ],
  extra: { blobs: blobSets.map(b => ({ pts: b[0], color: b[1] })) },
  scales: {
    x: axis(-50.9, 55, [-50, -25, 0, 25, 50], ['−50', '−25', '0', '25', '50'], 7.5, { border: '#888', bw: 1.4, pad: 1 }),
    y: axis(-58, 52, [-50, -25, 0, 25, 50], ['−50', '−25', '0', '25', '50'], 7.5, { border: '#aaa', bw: 1.6, pad: 1 })
  }
});
txt('I', 4, 680, 16);
txt('GSE125449', 101.7, 700.7, 11);
txt('tSNE_2', 18.7, 773, 9, { rot: -90 });
txt('tSNE_1', 110, 862, 9);
[[114, 727], [81, 740], [139, 750], [122.7, 770], [79, 780], [131.7, 799], [90.7, 824]].forEach((p, i) => txt(tsneNames[i], p[0], p[1], 11, { color: '#222' }));

// ---------- J ----------
const hotColor = v => (v >= 2 ? '#8B1010' : v >= 1.5 ? '#C0605A' : '#CC9A98');
plot([215.3, 711.7, 368.3, 845], { ml: 24, mb: 12, mt: 3, mr: 3 }, {
  datasets: [
    pts(rowsToPoints(jCscRows).concat(rowsToPoints(jMalRows)), '#ADD8E6', 1.7),
    Object.assign(pts(hotPoints, hotPoints.map(p => hotColor(p[2])), 1.2), { order: 0 }),
    curve(redOutline.map(p => p[0]), redOutline.map(p => p[1]), '#E41A1C', 1, { borderDash: [7, 3], tension: .2 }),
    curve(blueOutline.map(p => p[0]), blueOutline.map(p => p[1]), '#3768AE', 1, { borderDash: [7, 3], tension: .2 })
  ],
  scales: {
    x: axis(-48, 34.7, [-40, -20, 0, 20], ['−40', '−20', '0', '20'], 7.5, { border: '#333', pad: 1 }),
    y: axis(-30.8, 32.6, [-30, -20, -10, 0, 10, 20, 30], ['−30', '−20', '−10', '0', '10', '20', '30'], 7.5, { border: '#333', pad: 1 })
  }
});
txt('J', 185, 680, 16);
txt('ACACA', 295, 700, 12);
txt('CSCs', 337.3, 712, 12.5, { color: '#222' });
txt('Malignancies', 252.7, 752.3, 12.5, { color: '#222' });
txt('tSNE_2', 192.7, 778, 9, { rot: -90 });
txt('tSNE_1', 291.7, 862, 9);
key(378.3, 388.3, 755.7, 805.7, 'linear-gradient(#8B0000,#C07070 30%,#BDBDBD 60%,#ADD8E6 90%)', '0');
scaleLabels.forEach((s, i) => txt(s, 392.7, 756 + i * 10.35, 8, { left: 1, color: '#222' }));

// ---------- K, L, M ----------
function network(cx, cy, edges, sizes, names, off, labelSize) {
  plot([cx - 90, cy - 90, cx + 90, cy + 90], { ml: 0, mb: 0, mt: 0, mr: 0 }, {
    datasets: [{
      data: nodeX.map((x, i) => ({ x, y: nodeY[i] })), showLine: false,
      pointRadius: sizes, pointBackgroundColor: nodeColors, pointBorderWidth: 0
    }],
    extra: { edges },
    scales: {
      x: Object.assign(axis(-1.579, 1.579, [], [], 1, { border: 'none', tick: 0 }), { display: false }),
      y: Object.assign(axis(-1.579, 1.579, [], [], 1, { border: 'none', tick: 0 }), { display: false })
    }
  });
  names.forEach((n, i) => txt(n, cx + off[i][0], cy + off[i][1], labelSize, { color: '#222' }));
}
const namesK = ['T_cell', 'CSCs', 'Fibroblasts', 'Endothelial_cells', 'Macrophage', 'B_cell', 'Malignancies'];
const namesL = ['T_cell', 'CSCs', 'Fibroblasts', 'Endothelial_cells', 'macrophage', 'B_cell', 'Malignancies'];
network(524, 796.3, kCount, nodeSizes, namesK, labelOffK, 9.4);
network(706, 795, kWeight, nodeSizes, namesK, labelOffK, 10);
network(113.7, 983.3, lCount, nodeSizes, namesL, labelOffL, 8.6);
network(301.7, 983.7, lWeight, nodeSizes, namesL, labelOffL, 8.6);
network(528, 983.7, mCount, nodeSizes, namesL, labelOffL, 8.6);
network(711.7, 984.7, mWeight, nodeSizes, namesL, labelOffL, 8.6);
txt('K', 429, 680, 16);
txt('Secreted Signaling', 524, 700, 12.3);
txt('Number of interactions', 525, 714.3, 9.3, { color: '#222' });
txt('Secreted Signaling', 708, 700, 12.3);
txt('Interaction weights/strength', 709.3, 712.7, 9.8, { color: '#222' });
txt('L', 6.7, 878, 16);
txt('Cell-Cell Contact', 117.7, 885.7, 12.7);
txt('Number of interactions', 116, 900, 9, { color: '#222' });
txt('Cell-Cell Contact', 303.3, 885.7, 12.7);
txt('Interaction weights/strength', 303.3, 900, 9, { color: '#222' });
txt('M', 427, 878, 16);
txt('ECM-Receptor', 529.7, 885.7, 12);
txt('Number of interactions', 529.7, 900.3, 9, { color: '#222' });
txt('ECM-Receptor', 713.3, 885.7, 12);
txt('Interaction weights/strength', 713.7, 900.3, 9, { color: '#222' });
</script>
</body>
</html>
